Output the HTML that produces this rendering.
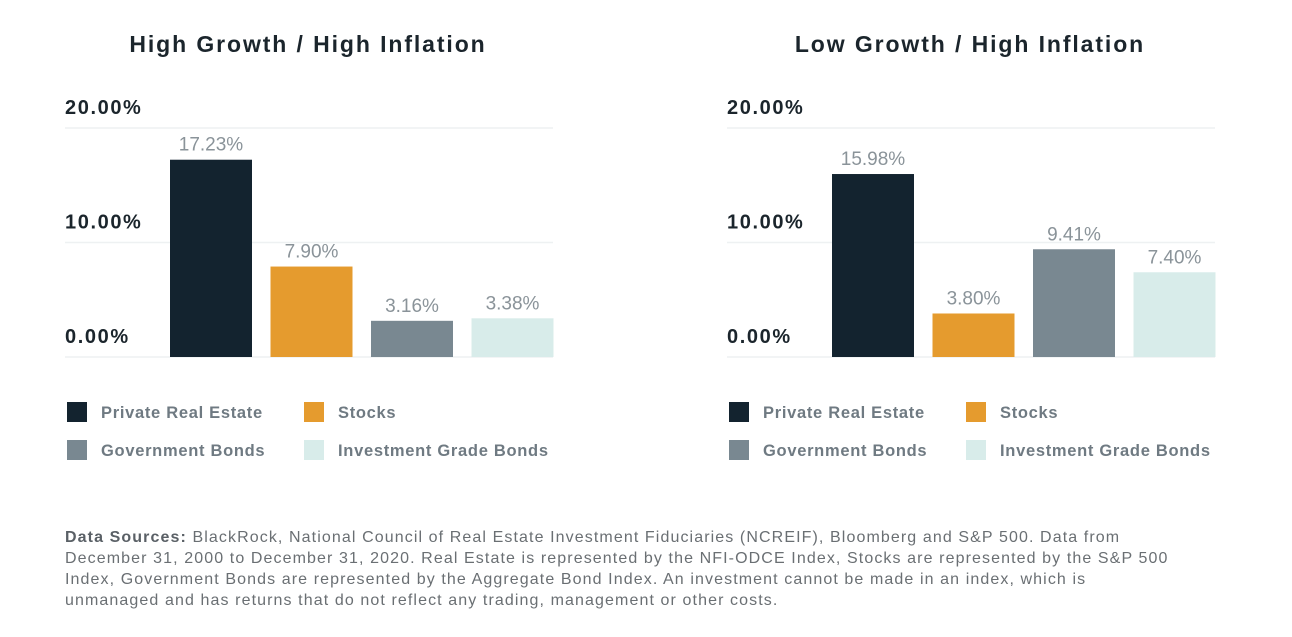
<!DOCTYPE html>
<html><head><meta charset="utf-8"><style>
body{margin:0;background:#fff;width:1292px;height:637px;overflow:hidden;font-family:"Liberation Sans",sans-serif;}
#foot{position:absolute;left:65px;top:527px;font-size:16px;letter-spacing:1.1px;line-height:21px;color:#6a6f73;width:1200px;white-space:nowrap;}
#foot b{color:#5a6066;}
</style></head><body>
<svg id="chart" width="1292" height="520" style="position:absolute;left:0;top:0"></svg>
<div id="foot"><b>Data Sources:</b> BlackRock, National Council of Real Estate Investment Fiduciaries (NCREIF), Bloomberg and S&amp;P 500. Data from<br>December 31, 2000 to December 31, 2020. Real Estate is represented by the NFI-ODCE Index, Stocks are represented by the S&amp;P 500<br>Index, Government Bonds are represented by the Aggregate Bond Index. An investment cannot be made in an index, which is<br>unmanaged and has returns that do not reflect any trading, management or other costs.</div>
<script>
const categories=["Private Real Estate","Stocks","Government Bonds","Investment Grade Bonds"];
const colors=["#13232f","#e59b2e","#798891","#d8ecea"];
const titles=["High Growth / High Inflation","Low Growth / High Inflation"];
const highGrowth=[17.23,7.90,3.16,3.38];
const lowGrowth=[15.98,3.80,9.41,7.40];
const ticks=[0,10,20];
const tickLabels=["0.00%","10.00%","20.00%"];
const NS="http://www.w3.org/2000/svg";
const svg=document.getElementById('chart');
function mk(tag,attrs,parent){const e=document.createElementNS(NS,tag);for(const k in attrs)e.setAttribute(k,attrs[k]);(parent||svg).appendChild(e);return e;}
function drawPanel(ox,title,values,pname){
  const g=mk('g',{});
  
  
  const y0=357,ymax=20,h=229;
  const yS=v=>y0-v/ymax*h;
  const left=ox,right=ox+488;
  const t=mk('text',{x:ox+243,y:52,'text-anchor':'middle','font-size':23,fill:'#1b252c','font-weight':'bold','letter-spacing':1.9},g);
  t.textContent=title;
  
  
  ticks.forEach((tv,i)=>{
    const l=mk('line',{x1:left,x2:right,y1:yS(tv),y2:yS(tv),stroke:'#eef1f2','stroke-width':1.5},g);
    
    
    const tx=mk('text',{x:left,y:yS(tv)-14,'font-size':20,fill:'#1b252c','font-weight':'bold','letter-spacing':1.6},g);
    tx.textContent=tickLabels[i];
    
    
  });
  const x0=ox+105,pitch=100.5,bw=82;
  values.forEach((v,i)=>{
    const bx=x0+i*pitch;
    const r=mk('rect',{x:bx,y:yS(v),width:bw,height:y0-yS(v),fill:colors[i]},g);
    
    
    const lb=mk('text',{x:bx+bw/2,y:yS(v)-9,'text-anchor':'middle','font-size':19,fill:'#8a9399'},g);
    lb.textContent=v.toFixed(2)+'%';
    
    
  });
  categories.forEach((c,i)=>{
    const lx=ox+2+(i%2)*237, ly=402+Math.floor(i/2)*38;
    const sq=mk('rect',{x:lx,y:ly,width:20,height:20,fill:colors[i]},g);
    
    
    const lt=mk('text',{x:lx+34,y:ly+16,'font-size':16.5,fill:'#6f7a82','font-weight':'bold','letter-spacing':0.7},g);
    lt.textContent=c;
    
    
  });
}
drawPanel(65,titles[0],highGrowth,'high-growth-chart');
drawPanel(727,titles[1],lowGrowth,'low-growth-chart');
</script>
</body></html>
